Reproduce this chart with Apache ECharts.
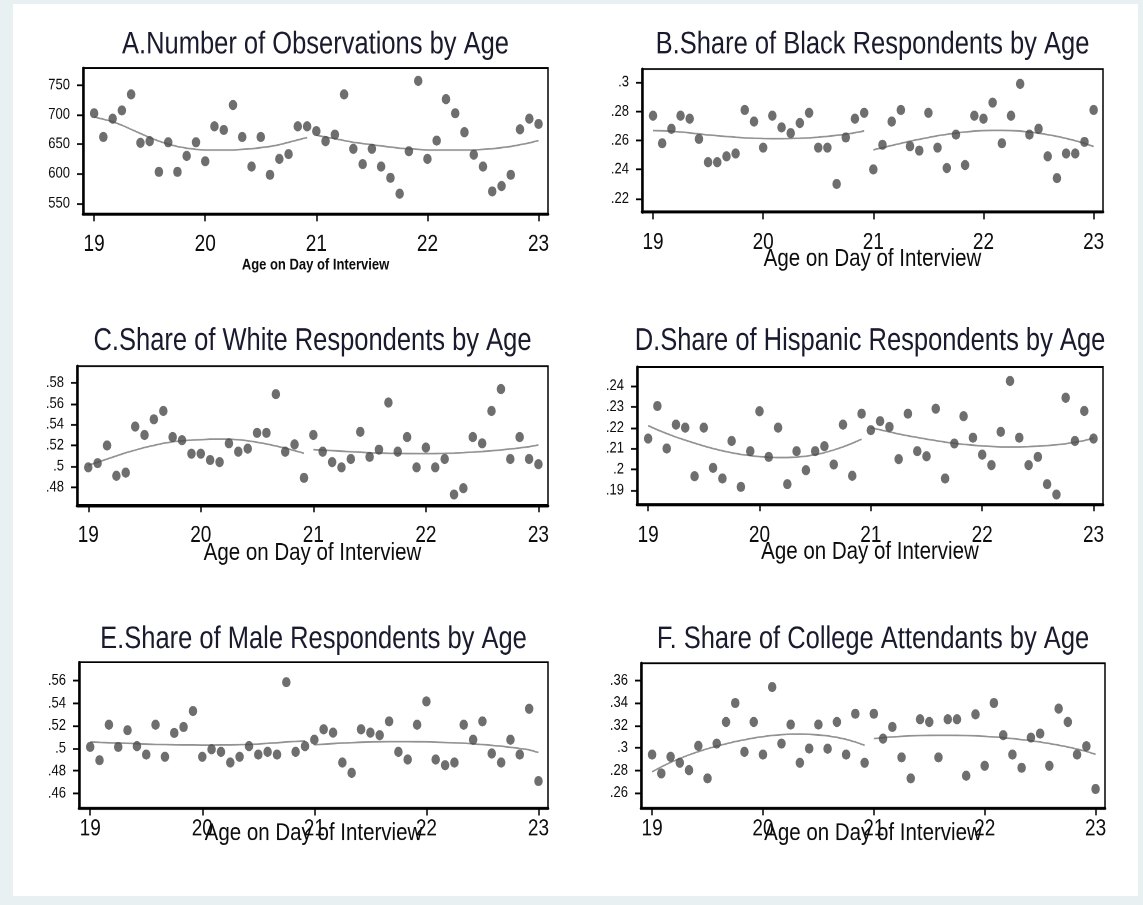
<!DOCTYPE html>
<html>
<head>
<meta charset="utf-8">
<script src="https://cdn.jsdelivr.net/npm/echarts@6/dist/echarts.min.js"></script>
<style>
  html, body { margin: 0; padding: 0; }
  body { width: 1143px; height: 905px; background: #e8f0f1; position: relative; overflow: hidden; }
  #paper { position: absolute; left: 13px; top: 4px; width: 1125px; height: 892px; background: #ffffff; }
  /* the figure is drawn on a 1143x754 canvas and stretched vertically to 905px */
  #chart { position: absolute; left: 0; top: 0; width: 1143px; height: 754px;
           transform: scaleY(1.2003); transform-origin: 0 0; }
</style>
</head>
<body>
<div id="paper"></div>
<div id="chart"></div>
<script>
// Age on day of interview, monthly bins from 19 to 23
const ages = [19.000, 19.083, 19.167, 19.250, 19.333, 19.417, 19.500, 19.583, 19.667, 19.750, 19.833, 19.917,
              20.000, 20.083, 20.167, 20.250, 20.333, 20.417, 20.500, 20.583, 20.667, 20.750, 20.833, 20.917,
              21.000, 21.083, 21.167, 21.250, 21.333, 21.417, 21.500, 21.583, 21.667, 21.750, 21.833, 21.917,
              22.000, 22.083, 22.167, 22.250, 22.333, 22.417, 22.500, 22.583, 22.667, 22.750, 22.833, 22.917,
              23.000];
const cutoff = 21;
const xTicks = [19, 20, 21, 22, 23];

// A. Number of observations
const obsCount = [702, 662, 693, 707, 734, 652, 655, 603, 653, 603, 630, 653, 621, 680, 674, 716, 662, 612, 662, 598, 625, 633, 680, 680,
                  672, 655, 666, 734, 642, 616, 642, 612, 593, 566, 638, 757, 625, 656, 726, 702, 670, 632, 612, 570, 579, 598, 675, 693, 684];
const obsFit = [696, 692, 688, 682, 675, 668, 661, 655, 650, 646, 643, 641, 640, 640, 640, 640, 641, 642, 644, 646, 649, 653, 657, 661,
                665, 662, 659, 656, 653, 651, 649, 647, 645, 643, 642, 641, 640, 640, 640, 640, 640, 640, 641, 642, 644, 646, 649, 652, 656];
const obsTicks = [550, 600, 650, 700, 750];

// B. Share black
const blackShare = [.277, .258, .268, .277, .275, .261, .245, .245, .249, .251, .281, .273, .255, .277, .269, .265, .272, .279, .255, .255, .230, .262, .275, .279,
                    .240, .257, .273, .281, .256, .253, .279, .255, .241, .264, .243, .277, .275, .286, .258, .277, .299, .264, .268, .249, .234, .251, .251, .259, .281];
const blackFit = [.2668, .2666, .2663, .2658, .2652, .2645, .2638, .2632, .2627, .2622, .2618, .2615, .2613, .2612, .2612, .2613, .2615, .2618, .2622, .2628, .2635, .2643, .2653, .2665,
                  .2535, .2550, .2565, .2580, .2595, .2608, .2620, .2632, .2642, .2651, .2658, .2664, .2668, .2670, .2670, .2668, .2664, .2658, .2650, .2640, .2628, .2614, .2598, .2580, .2558];
const blackTicks = [.22, .24, .26, .28, .3];

// C. Share white
const whiteShare = [.499, .503, .520, .491, .494, .538, .530, .545, .553, .528, .525, .512, .512, .506, .504, .522, .514, .517, .532, .532, .569, .514, .521, .489,
                    .530, .514, .504, .499, .507, .533, .509, .516, .561, .514, .528, .499, .518, .499, .507, .473, .479, .528, .522, .553, .574, .507, .528, .507, .502];
const whiteFit = [.501, .504, .507, .510, .513, .5155, .518, .520, .522, .5235, .5245, .525, .5255, .526, .526, .526, .5255, .5245, .523, .5215, .5195, .5175, .515, .5125,
                  .516, .5155, .515, .5145, .514, .5135, .513, .5128, .5125, .5123, .5122, .5121, .5121, .5122, .5124, .5127, .5131, .5136, .5142, .5149, .5157, .5166, .5176, .5188, .5205];
const whiteTicks = [.48, .5, .52, .54, .56, .58];

// D. Share hispanic
const hispShare = [.2148, .2304, .2100, .2215, .2200, .1967, .2200, .2007, .1956, .2136, .1916, .2087, .2279, .2060, .2200, .1929, .2087, .1996, .2087, .2111, .2023, .2215, .1969, .2267,
                   .2188, .2231, .2204, .2049, .2267, .2087, .2063, .2291, .1956, .2124, .2255, .2152, .2071, .2020, .2180, .2424, .2152, .2020, .2060, .1929, .1879, .2344, .2136, .2280, .2148];
const hispFit = [.2210, .2190, .2172, .2155, .2140, .2126, .2112, .2100, .2089, .2080, .2072, .2066, .2061, .2058, .2057, .2057, .2059, .2063, .2070, .2080, .2093, .2108, .2125, .2145,
                 .2200, .2190, .2180, .2170, .2161, .2153, .2145, .2138, .2131, .2125, .2120, .2116, .2112, .2110, .2108, .2108, .2108, .2109, .2111, .2114, .2118, .2123, .2130, .2138, .2150];
const hispTicks = [.19, .2, .21, .22, .23, .24];

// E. Share male
const maleShare = [.5012, .4894, .5209, .5012, .5159, .5018, .4944, .5209, .4924, .5135, .5188, .5329, .4924, .4991, .4968, .4874, .4924, .5018, .4944, .4968, .4944, .5585, .4968, .5018,
                   .5076, .5168, .5138, .4874, .4782, .5168, .5138, .5115, .5238, .4968, .4900, .5209, .5415, .4900, .4850, .4874, .5209, .5076, .5238, .4953, .4874, .5076, .4944, .5350, .4709];
const maleFit = [.5055, .5052, .5049, .5046, .5043, .5040, .5037, .5034, .5032, .5030, .5029, .5028, .5027, .5027, .5028, .5029, .5031, .5034, .5038, .5043, .5049, .5055, .5060, .5066,
                 .5030, .5036, .5041, .5046, .5050, .5053, .5055, .5057, .5058, .5058, .5058, .5057, .5056, .5054, .5051, .5048, .5044, .5039, .5033, .5026, .5018, .5009, .4998, .4986, .4962];
const maleTicks = [.46, .48, .5, .52, .54, .56];

// F. Share attending college
const collegeShare = [.2940, .2772, .2920, .2866, .2801, .3017, .2727, .3038, .3230, .3399, .2964, .3230, .2940, .3541, .3038, .3207, .2866, .2993, .3207, .2992, .3230, .2940, .3304, .2866,
                      .3304, .3082, .3186, .2914, .2727, .3254, .3230, .2914, .3254, .3254, .2751, .3298, .2840, .3399, .3112, .2940, .2822, .3091, .3127, .2840, .3349, .3230, .2940, .3014, .2633];
const collegeFit = [.2786, .2830, .2870, .2905, .2937, .2966, .2992, .3015, .3036, .3055, .3072, .3087, .3100, .3110, .3117, .3121, .3122, .3120, .3115, .3106, .3093, .3075, .3052, .3022,
                    .3082, .3090, .3097, .3102, .3106, .3109, .3111, .3112, .3112, .3111, .3109, .3106, .3102, .3097, .3090, .3082, .3073, .3063, .3051, .3038, .3023, .3007, .2989, .2968, .2942];
const collegeTicks = [.26, .28, .3, .32, .34, .36];

const titles = [
  'A.Number of Observations by Age',
  'B.Share of Black Respondents by Age',
  'C.Share of White Respondents by Age',
  'D.Share of Hispanic Respondents by Age',
  'E.Share of Male Respondents by Age',
  'F. Share of College Attendants by Age'
];
const xName = 'Age on Day of Interview';

const FONT = '"Liberation Sans", Arial, sans-serif';
const INK = '#0d0d0d';

// panel boxes (canvas px), value ranges, tick-label margin and axis-title gap
const panels = [
  { box: [83, 56.7, 465, 121.7], yr: [531.5, 778.6], vals: obsCount, fit: obsFit, ticks: obsTicks, small: true, lm: 16, ng: 36 },
  { box: [642, 57.5, 461, 119.2], yr: [.2106, .3092], vals: blackShare, fit: blackFit, ticks: blackTicks, lm: 16, ng: 28.5 },
  { box: [77, 305, 471, 115.8], yr: [.4629, .5959], vals: whiteShare, fit: whiteFit, ticks: whiteTicks, lm: 16, ng: 29.5 },
  { box: [637, 305.8, 466, 114.2], yr: [.1833, .2491], vals: hispShare, fit: hispFit, ticks: hispTicks, lm: 17, ng: 29.5 },
  { box: [79, 551.7, 469, 121.7], yr: [.4468, .5762], vals: maleShare, fit: maleFit, ticks: maleTicks, lm: 8, ng: 10.5 },
  { box: [641, 552.5, 464, 120.8], yr: [.2462, .3754], vals: collegeShare, fit: collegeFit, ticks: collegeTicks, lm: 8, ng: 10.5 }
];
const titleTops = [24.5, 24.5, 271.5, 271.5, 520, 520];

function fmtShare(v) {
  if (v >= 1) return String(v);
  return String(+v.toFixed(2)).replace(/^0\./, '.');
}

const grid = [], xAxis = [], yAxis = [], series = [], graphic = [];

panels.forEach((p, i) => {
  const [left, top, width, height] = p.box;
  grid.push({ left, top, width, height, show: true, borderColor: '#000', borderWidth: 1.5,
              backgroundColor: 'transparent', containLabel: false, outerBoundsMode: 'none' });

  xAxis.push({
    type: 'value', gridIndex: i, min: 18.9, max: 23.085,
    axisLine: { show: true, onZero: false, lineStyle: { color: '#000', width: 2.5 } },
    axisTick: { show: true, length: 6, customValues: xTicks, lineStyle: { color: '#000', width: 1.5 } },
    axisLabel: { customValues: xTicks, margin: p.lm, fontSize: 19, color: INK, fontFamily: FONT },
    splitLine: { show: false },
    name: xName, nameLocation: 'middle', nameMoveOverlap: false,
    nameGap: p.ng,
    nameTextStyle: p.small
      ? { fontSize: 13, fontWeight: 'bold', color: INK, fontFamily: FONT }
      : { fontSize: 20.5, color: INK, fontFamily: FONT }
  });

  yAxis.push({
    type: 'value', gridIndex: i, min: p.yr[0], max: p.yr[1],
    axisLine: { show: true, onZero: false, lineStyle: { color: '#000', width: 2.5 } },
    axisTick: { show: true, length: 6, customValues: p.ticks, lineStyle: { color: '#000', width: 1.5 } },
    axisLabel: { customValues: p.ticks, margin: 13, fontSize: 13, color: INK, fontFamily: FONT,
                 formatter: fmtShare },
    splitLine: { show: false }
  });

  const pts = ages.map((a, k) => [a, p.vals[k]]);
  const fitPts = ages.map((a, k) => [a, p.fit[k]]);

  // fitted curves on each side of age 21
  [fitPts.filter(d => d[0] < cutoff), fitPts.filter(d => d[0] >= cutoff)].forEach(seg => {
    series.push({
      type: 'line', xAxisIndex: i, yAxisIndex: i, data: seg,
      showSymbol: false, symbol: 'none', silent: true, z: 2,
      lineStyle: { color: '#929292', width: 1.4 }
    });
  });

  series.push({
    type: 'scatter', xAxisIndex: i, yAxisIndex: i, data: pts, z: 3,
    symbol: 'circle', symbolSize: 8.5, itemStyle: { color: '#4a4a4a' }
  });

  graphic.push({
    type: 'text', x: left + width / 2, y: titleTops[i], silent: true,
    style: { text: titles[i], fontSize: 25.5, fontFamily: FONT, fill: '#1a1a2e',
             align: 'center', verticalAlign: 'top', textAlign: 'center', textVerticalAlign: 'top' }
  });
});

const chart = echarts.init(document.getElementById('chart'), null, { renderer: 'canvas', devicePixelRatio: 2 });
chart.setOption({ animation: false, backgroundColor: 'transparent', grid, xAxis, yAxis, series, graphic });
</script>
</body>
</html>
